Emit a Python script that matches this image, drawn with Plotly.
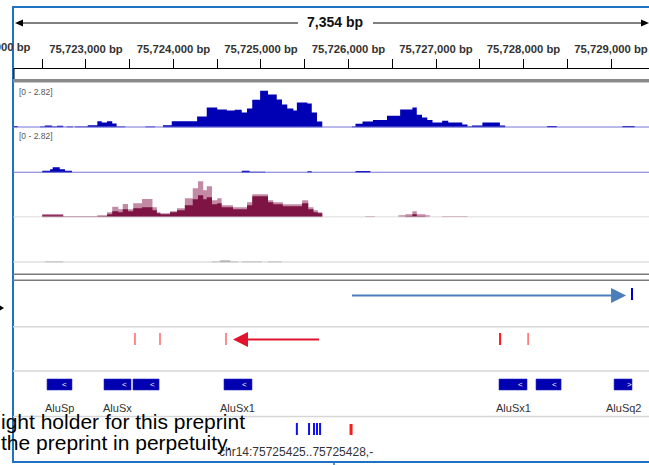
import plotly.graph_objects as go

W, H = 649, 465
FONT = "Liberation Sans, Arial, sans-serif"

# ---------------- data ----------------
view_start, view_end = 75722166, 75729434
span_label = "7,354 bp"

tick_pos = [75722500, 75723000, 75723500, 75724000, 75724500, 75725000, 75725500,
            75726000, 75726500, 75727000, 75727500, 75728000, 75728500, 75729000]
tick_text = ["", "75,723,000 bp", "", "75,724,000 bp", "", "75,725,000 bp", "",
             "75,726,000 bp", "", "75,727,000 bp", "", "75,728,000 bp", "", "75,729,000 bp"]
clipped_tick_text = "75,722,000 bp"
track_scale = "[0 - 2.82]"

t1_pos = [75722170, 75722220, 75722475, 75722530, 75722610, 75722670, 75722740, 75722780,
          75722850, 75722875, 75723020, 75723130, 75723180, 75723240, 75723300, 75723350,
          75723450, 75723680, 75723790, 75723880, 75723980, 75724270, 75724380, 75724500,
          75724610, 75724700, 75724780, 75724840, 75724900, 75724990, 75725080, 75725180,
          75725240, 75725300, 75725370, 75725410, 75725530, 75725580, 75725640, 75725700,
          75726040, 75726080, 75726160, 75726280, 75726440, 75726590, 75726730, 75726780,
          75726840, 75726900, 75726960, 75727070, 75727140, 75727300, 75727360, 75727410,
          75727530, 75727730, 75727790, 75728270, 75728380, 75729130, 75729270]
t1_val = [0.10, 0, 0.07, 0.13, 0.07, 0.11, 0, 0.07, 0, 0.07, 0.15, 0.41, 0.33, 0.41, 0.26, 0.07,
          0, 0.07, 0, 0.15, 0.41, 0.72, 1.31, 1.18, 1.11, 1.16, 0.98, 1.25, 1.82, 2.41, 2.16, 1.84,
          1.51, 1.25, 1.11, 1.64, 1.57, 0.98, 0.39, 0, 0.07, 0.24, 0.39, 0.50, 0.77, 1.18, 1.31, 0.83,
          0.66, 0.50, 0.33, 0.44, 0.33, 0.20, 0.07, 0.13, 0.33, 0.13, 0, 0.10, 0, 0.10, 0]

t2_pos = [75722500, 75722590, 75722620, 75722700, 75722760, 75722840, 75724780, 75724870,
          75725050, 75725530, 75725580, 75726080, 75726250]
t2_val = [0.13, 0.22, 0.35, 0.22, 0.13, 0, 0.13, 0.07, 0, 0.09, 0, 0.11, 0]

t3_pos = [75722500, 75722740, 75723130, 75723240, 75723300, 75723370, 75723420, 75723480,
          75723540, 75723640, 75723760, 75723810, 75723850, 75723960, 75724040, 75724130,
          75724220, 75724280, 75724340, 75724380, 75724440, 75724500, 75724550, 75724680,
          75724840, 75724900, 75725080, 75725140, 75725250, 75725470, 75725540, 75725600,
          75725650, 75725700, 75726190, 75726300, 75726570, 75726650, 75726730, 75726780,
          75726880, 75726930, 75727070, 75727360]
t3_all = [0.22, 0.07, 0.13, 0.33, 0.70, 0.52, 0.87, 0.52, 0.92, 1.20, 0.66, 0.33, 0.26, 0.39,
          0.59, 1.25, 1.90, 2.36, 1.77, 2.03, 1.11, 1.25, 0.79, 0.66, 0.98, 1.51, 1.11, 0.98,
          0.85, 1.11, 0.66, 0.46, 0.33, 0, 0.07, 0, 0.13, 0.20, 0.39, 0.20, 0.13, 0, 0.07, 0]
t3_uniq = [0.13, 0.03, 0.07, 0.20, 0.39, 0.33, 0.52, 0.39, 0.59, 0.66, 0.46, 0.26, 0.20, 0.33,
           0.46, 0.79, 1.18, 1.44, 1.18, 1.31, 0.85, 0.92, 0.66, 0.52, 0.79, 1.38, 0.98, 0.85,
           0.72, 0.92, 0.52, 0.33, 0.26, 0, 0, 0, 0, 0.07, 0.20, 0.07, 0, 0, 0, 0]

t4_pos = [75722530, 75722740, 75724440, 75724530, 75724650, 75724740, 75724780, 75725010,
          75725080, 75725240]
t4_val = [0.07, 0, 0.07, 0.13, 0.07, 0, 0.07, 0, 0.07, 0]

tx_fwd = [75726040, 75729172]      # tail, head
tx_fwd_mark = 75729240
tx_rev = [75725663, 75724680]      # tail, head
var_pos = [75723560, 75723846, 75724600, 75727732, 75728052]

feat_start = [75722555, 75723206, 75723537, 75724577, 75727720, 75728143, 75729035]
feat_end = [75722840, 75723515, 75723835, 75724897, 75728040, 75728429, 75729240]
feat_strand = ["-", "-", "-", "-", "-", "-", "+"]
feat_label = ["AluSp", "AluSx", "", "AluSx1", "AluSx1", "", "AluSq2"]

site_blue = [75725410, 75725549, 75725606, 75725640, 75725675]
site_red = [75726029]
locus_text = "chr14:75725425..75725428,-"
overlay_lines = ["ight holder for this preprint", "the preprint in perpetuity."]


# ---------------- helpers (layout only) ----------------
def px(x):
    return x / W


def py(y):
    return 1 - y / H


def dom(top, bottom):
    return [py(bottom), py(top)]


BP_PER_PX = (view_end - view_start) / (W - 13)

fig = go.Figure()

tracks = [
    ("y", t1_pos, t1_val, "#0000b4"),
    ("y2", t2_pos, t2_val, "#0000b4"),
    ("y3", t3_pos, t3_all, "#c38aa6"),
    ("y3", t3_pos, t3_uniq, "#7d1443"),
    ("y4", t4_pos, t4_val, "#9a9a9a"),
]
for yax, xs, ys, col in tracks:
    fig.add_trace(go.Scatter(x=xs, y=ys, mode="lines", yaxis=yax,
                             line=dict(shape="hv", width=0, color=col),
                             fill="tozeroy", fillcolor=col, hoverinfo="skip",
                             showlegend=False))

shapes = []
ann = []


def text(x, y, s, size, color="#333", xanchor="center", xref="paper"):
    ann.append(dict(xref=xref, yref="paper", x=x, y=y, xanchor=xanchor, yanchor="middle",
                    text=s, showarrow=False, font=dict(family=FONT, size=size, color=color)))


# frame
BLUE = "#1f72c2"
shapes += [
    dict(type="line", xref="paper", yref="paper", x0=px(13), x1=px(13), y0=py(6), y1=py(462.5),
         line=dict(color=BLUE, width=2)),
    dict(type="line", xref="paper", yref="paper", x0=px(12), x1=1, y0=py(7), y1=py(7),
         line=dict(color=BLUE, width=2)),
    dict(type="line", xref="paper", yref="paper", x0=px(12), x1=1, y0=py(462), y1=py(462),
         line=dict(color=BLUE, width=2)),
    dict(type="line", xref="paper", yref="paper", x0=px(334), x1=px(334), y0=py(462), y1=py(465),
         line=dict(color=BLUE, width=1.5)),
]

# ruler
shapes += [
    dict(type="line", xref="paper", yref="paper", x0=px(18), x1=px(298), y0=py(23), y1=py(23),
         line=dict(color="black", width=1)),
    dict(type="line", xref="paper", yref="paper", x0=px(373), x1=px(645), y0=py(23), y1=py(23),
         line=dict(color="black", width=1)),
    dict(type="path", xref="paper", yref="paper",
         path=f"M {px(15)},{py(23)} L {px(23)},{py(19.5)} L {px(23)},{py(26.5)} Z",
         fillcolor="black", line=dict(width=0)),
    dict(type="path", xref="paper", yref="paper",
         path=f"M {px(649)},{py(23)} L {px(641)},{py(19.5)} L {px(641)},{py(26.5)} Z",
         fillcolor="black", line=dict(width=0)),
]
text(px(335), py(22.5), f"<b>{span_label}</b>", 14, "#111")
text(px(33), py(47), f"<b>{clipped_tick_text}</b>", 11.3, "#333", xanchor="right")

# box edge + grey band under ruler
shapes += [
    dict(type="line", xref="paper", yref="paper", x0=px(14), x1=px(14), y0=py(68), y1=py(80),
         line=dict(color="black", width=1)),
    dict(type="rect", xref="paper", yref="paper", x0=px(13), x1=1, y0=py(82.5), y1=py(79),
         fillcolor="#8a8a8a", line=dict(width=0)),
]

# baselines
for yref, col in [("y", "#7474d8"), ("y2", "#7474d8"), ("y3", "#d0d0d0"), ("y4", "#d0d0d0")]:
    shapes.append(dict(type="line", xref="paper", yref=yref, x0=px(13), x1=1, y0=0, y1=0,
                       line=dict(color=col, width=1.8), layer="above"))
for ty in [91.5, 135.5]:
    text(px(17), py(ty), track_scale, 8.5, "#555", xanchor="left")

# separators
for ly in [274.3, 280.3]:
    shapes.append(dict(type="line", xref="paper", yref="paper", x0=px(13), x1=1, y0=py(ly), y1=py(ly),
                       line=dict(color="#7a7a7a", width=1.6)))
for ly in [326.7, 371, 416.5]:
    shapes.append(dict(type="line", xref="paper", yref="paper", x0=px(13), x1=1, y0=py(ly), y1=py(ly),
                       line=dict(color="#d6d6d6", width=1.5)))

# forward arrow
ARW = "#4a7ebb"
head_len = 15 * BP_PER_PX
shapes += [
    dict(type="line", xref="x", yref="paper", x0=tx_fwd[0], x1=tx_fwd[1] - head_len + 10,
         y0=py(295.5), y1=py(295.5), line=dict(color=ARW, width=2)),
    dict(type="path", xref="x", yref="paper",
         path=f"M {tx_fwd[1]},{py(295.5)} L {tx_fwd[1] - head_len},{py(288)} "
              f"L {tx_fwd[1] - head_len},{py(303)} Z",
         fillcolor=ARW, line=dict(width=0)),
    dict(type="line", xref="x", yref="paper", x0=tx_fwd_mark, x1=tx_fwd_mark, y0=py(288), y1=py(300),
         line=dict(color="#0000cc", width=2)),
    dict(type="path", xref="paper", yref="paper",
         path=f"M {px(4)},{py(308)} L {px(-1)},{py(305)} L {px(-1)},{py(311)} Z",
         fillcolor="black", line=dict(width=0)),
]

# reverse arrow + variant ticks
RED = "#e0142d"
shapes += [
    dict(type="line", xref="x", yref="paper", x0=tx_rev[0], x1=tx_rev[1] + head_len - 10,
         y0=py(339.5), y1=py(339.5), line=dict(color=RED, width=2)),
    dict(type="path", xref="x", yref="paper",
         path=f"M {tx_rev[1]},{py(339.5)} L {tx_rev[1] + head_len},{py(332)} "
              f"L {tx_rev[1] + head_len},{py(347)} Z",
         fillcolor=RED, line=dict(width=0)),
]
var_lw = [1, 1, 1, 2, 1]
for vp, lw in zip(var_pos, var_lw):
    shapes.append(dict(type="line", xref="x", yref="paper", x0=vp, x1=vp, y0=py(345), y1=py(333),
                       line=dict(color="#ff1a1a", width=lw)))

# repeat features
for s, e, strand, lab in zip(feat_start, feat_end, feat_strand, feat_label):
    shapes.append(dict(type="rect", xref="x", yref="paper", x0=s, x1=e, y0=py(390), y1=py(379),
                       fillcolor="#0000b0", line=dict(color="#2a2ac8", width=0.6)))
    cx = e - 80 if strand == "-" else e - 25
    text(cx, py(384.5), "&lt;" if strand == "-" else "&gt;", 8, "white", xref="x")
    if lab:
        text((s + e) / 2, py(408), lab, 11, "#333", xref="x")

# bottom site marks
for sp in site_blue:
    shapes.append(dict(type="line", xref="x", yref="paper", x0=sp, x1=sp, y0=py(435), y1=py(423),
                       line=dict(color="#1010ee", width=2)))
for sp in site_red:
    shapes.append(dict(type="line", xref="x", yref="paper", x0=sp, x1=sp, y0=py(435), y1=py(424),
                       line=dict(color="#ff1a1a", width=3)))
text(px(296), py(452), locus_text, 12, "#333")

# overlay text
for i, line in enumerate(overlay_lines):
    text(px(-1), py(421 + 21 * i), line, 21, "black", xanchor="left")

fig.update_layout(
    width=W, height=H, margin=dict(l=0, r=0, t=0, b=0),
    paper_bgcolor="white", plot_bgcolor="white", showlegend=False,
    xaxis=dict(domain=[px(13), 1], range=[view_start, view_end], side="top", anchor="free",
               position=py(68), tickvals=tick_pos, ticktext=tick_text, ticks="outside",
               ticklen=9, tickwidth=1, tickcolor="black", showline=True, linecolor="black",
               linewidth=1, showgrid=False, zeroline=False, fixedrange=True,
               ticklabelstandoff=1,
               tickfont=dict(family=FONT, size=11.3, color="#333", weight="bold")),
    yaxis=dict(domain=dom(84.5, 127.5), range=[0, 2.82], visible=False, fixedrange=True),
    yaxis2=dict(domain=dom(129.7, 172.7), range=[0, 2.82], visible=False, anchor="x", fixedrange=True),
    yaxis3=dict(domain=dom(174.3, 217.3), range=[0, 2.82], visible=False, anchor="x", fixedrange=True),
    yaxis4=dict(domain=dom(219.5, 262.5), range=[0, 2.82], visible=False, anchor="x", fixedrange=True),
    shapes=shapes, annotations=ann,
)

fig.write_html("out.html")
